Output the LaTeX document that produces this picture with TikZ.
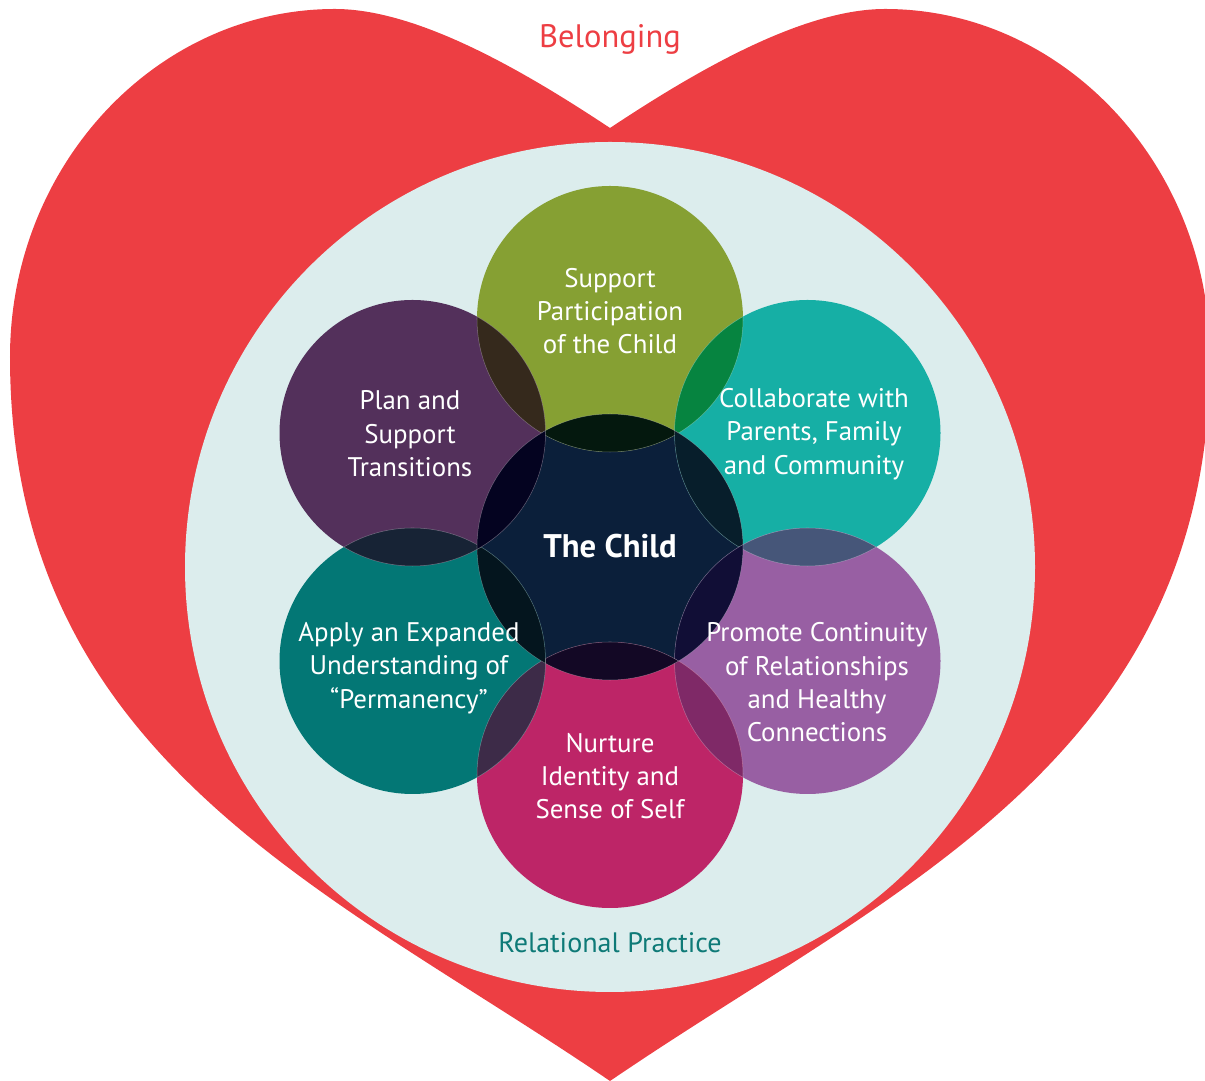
\documentclass[tikz,border=0pt]{standalone}
\usepackage{fontspec}
\setmainfont{PT Sans}

\definecolor{heartred}{HTML}{ED3E43}
\definecolor{practicebg}{HTML}{DCEDED}
\definecolor{practicetext}{HTML}{0E7A77}
\definecolor{childnavy}{HTML}{0B1F3A}
\definecolor{partgreen}{HTML}{86A033}
\definecolor{transpurple}{HTML}{53305B}
\definecolor{collabteal}{HTML}{16AFA5}
\definecolor{permteal}{HTML}{037775}
\definecolor{contmauve}{HTML}{985FA3}
\definecolor{identmagenta}{HTML}{BD2567}
% colours where two circles overlap
\definecolor{lensPartTrans}{HTML}{35291C}
\definecolor{lensPartCollab}{HTML}{068440}
\definecolor{lensPartChild}{HTML}{04180E}
\definecolor{lensCollabChild}{HTML}{071E2B}
\definecolor{lensCollabCont}{HTML}{465679}
\definecolor{lensContChild}{HTML}{110E36}
\definecolor{lensContIdent}{HTML}{7F2967}
\definecolor{lensIdentChild}{HTML}{130825}
\definecolor{lensIdentPerm}{HTML}{3D2B48}
\definecolor{lensPermChild}{HTML}{04151E}
\definecolor{lensPermTrans}{HTML}{172335}
\definecolor{lensTransChild}{HTML}{040320}

\begin{document}
\begin{tikzpicture}[
    label/.style={text=white, align=center, font=\fontsize{15.3}{19}\selectfont},
    hair/.style={draw=white, draw opacity=0.3, line width=0.3pt}]
            \useasboundingbox (0,0) rectangle (24.1,21.62);
            % heart
            \fill[heartred] (12.2,19.06)
                  .. controls (10.6,20.12) and (8.4,21.44) .. (6.7,21.44)
                  .. controls (3.12,21.44) and (0.2,18.3) .. (0.2,14.48)
                  .. controls (0.2,6.42) and (6.6,3.82) .. (12.2,0)
                  .. controls (17.8,3.82) and (24.2,6.42) .. (24.2,14.48)
                  .. controls (24.2,18.3) and (21.28,21.44) .. (17.7,21.44)
                  .. controls (16.0,21.44) and (13.8,20.12) .. (12.2,19.06) -- cycle;
            % practice disc
            \fill[practicebg] (12.2,10.28) circle (8.5);
            % circle centres
            \coordinate (child)  at (12.2,10.68);
            \coordinate (part)   at (12.2,15.24);
            \coordinate (collab) at (16.15,12.96);
            \coordinate (cont)   at (16.15,8.40);
            \coordinate (ident)  at (12.2,6.12);
            \coordinate (perm)   at (8.25,8.40);
            \coordinate (trans)  at (8.25,12.96);
            % draw the seven circles
            \fill[childnavy]    (child)  circle (2.66);
            \fill[partgreen]    (part)   circle (2.66);
            \fill[collabteal]   (collab) circle (2.66);
            \fill[contmauve]    (cont)   circle (2.66);
            \fill[identmagenta] (ident)  circle (2.66);
            \fill[permteal]     (perm)   circle (2.66);
            \fill[transpurple]  (trans)  circle (2.66);
            % overlaps
            \foreach \a/\b/\lens in {part/trans/lensPartTrans, part/collab/lensPartCollab,
                part/child/lensPartChild, collab/child/lensCollabChild,
                collab/cont/lensCollabCont, cont/child/lensContChild,
                cont/ident/lensContIdent, ident/child/lensIdentChild,
                ident/perm/lensIdentPerm, perm/child/lensPermChild,
                perm/trans/lensPermTrans, trans/child/lensTransChild} {
              \begin{scope}
                \clip (\a) circle (2.66);
                \fill[\lens] (\b) circle (2.66);
                \draw[hair] (\b) circle (2.66);
              \end{scope}
              \begin{scope}
                \clip (\b) circle (2.66);
                \draw[hair] (\a) circle (2.66);
              \end{scope}
            }
            % labels
            \node (belonging) at (12.2,20.84) [text=heartred, font=\fontsize{18.5}{22}\selectfont] {Belonging};
            \node (practice)  at (12.2,2.76) [text=practicetext, font=\fontsize{16}{19}\selectfont] {Relational Practice};
            \node (childtext) at (12.2,10.7) [text=white, font=\bfseries\fontsize{18.6}{22}\selectfont] {The Child};
            \node (parttext)   at (12.2,15.4)  [label] {Support\\Participation\\of the Child};
            \node (collabtext) at (16.28,12.94) [label] {Collaborate with\\Parents, Family\\and Community};
            \node (conttext)   at (16.34,7.97) [label] {Promote Continuity\\of Relationships\\and Healthy\\Connections};
            \node (identtext)  at (12.2,6.1)   [label] {Nurture\\Identity and\\Sense of Self};
            \node (permtext)   at (8.18,8.26)  [label] {Apply an Expanded\\Understanding of\\``Permanency''};
            \node (transtext)  at (8.2,12.94)  [label] {Plan and\\Support\\Transitions};
          \end{tikzpicture}
\end{document}
